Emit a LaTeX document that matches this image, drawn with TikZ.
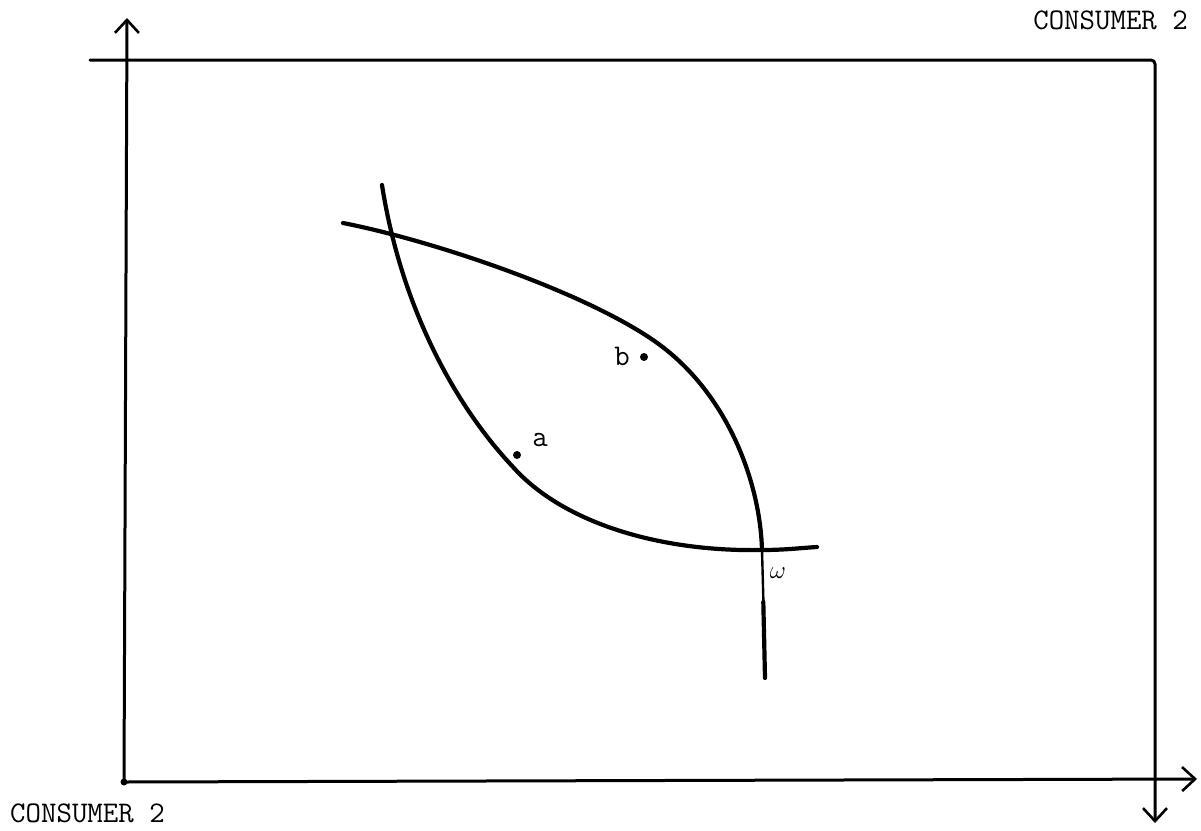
\documentclass[tikz,border=0pt]{standalone}
\usepackage{fontspec}
\usetikzlibrary{arrows.meta}
\tikzset{
  axisline/.style={line width=3pt, line cap=round, line join=round},
  barb/.style={-{Straight Barb[length=13pt,width=24pt,line width=2.6pt]}},
  curve/.style={line width=4.2pt, line cap=round},
  lbl/.style={font=\fontsize{30}{30}\selectfont\ttfamily, inner sep=0pt},
  pt/.style={circle, fill=black, inner sep=0pt, minimum size=8pt},
}
\begin{document}
\begin{tikzpicture}[x=1pt,y=-1pt]
\useasboundingbox (0,0) rectangle (1201,830);
% corners and arrow ends
\coordinate (o1) at (124,782);
\coordinate (up) at (127,18);
\coordinate (rt) at (1197,779);
\coordinate (o2) at (1155,60);
\coordinate (lt) at (90,60);
\coordinate (dn) at (1155,823);
% consumer 1 axes (origin bottom-left)
\draw[axisline, barb] (o1) -- (up);
\draw[axisline, barb] (o1) -- (rt);
% consumer 2 axes (origin top-right)
\draw[axisline, barb, rounded corners=4pt] (lt) -- (o2) -- (dn);
\fill (o1) circle (3.5pt);
% labels
\node[lbl, anchor=east] (c2top) at (1188,20) {CONSUMER 2};
\node[lbl, anchor=west] (c2bot) at (10,813) {CONSUMER 2};
% intersections
\coordinate (p) at (392,235);
\coordinate (e) at (762,550);
% indifference curve through a
\draw[curve] (382,185) .. controls (400,300) and (450,400) .. (513,467)
  .. controls (563,523) and (660,552) .. (e)
  .. controls (785,550) and (800,548) .. (817,547);
% indifference curve through b
\draw[curve] (343,223) .. controls (430,240) and (580,290) .. (653,340)
  .. controls (726,390) and (760,480) .. (e);
\draw[line width=2.4pt] (e) -- (763.5,605);
\draw[curve] (763.3,602) -- (765,678);
% points
\node[pt] (a) at (517,455) {};
\node[lbl, anchor=center] (la) at (540,440) {a};
\node[pt] (b) at (644,357) {};
\node[lbl, anchor=center] (lb) at (622,356) {b};
\node[font=\fontsize{24}{24}\selectfont, inner sep=0pt] (w) at (778,573) {$\omega$};
\end{tikzpicture}
\end{document}
